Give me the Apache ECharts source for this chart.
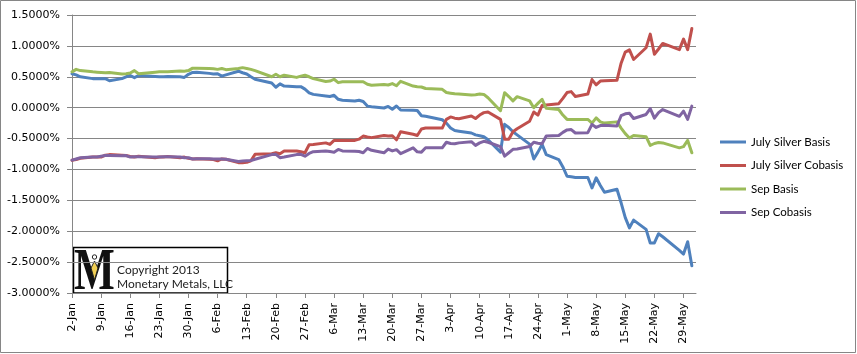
<!DOCTYPE html>
<html><head><meta charset="utf-8">
<script src="https://cdn.jsdelivr.net/npm/echarts@6/dist/echarts.min.js"></script>
<style>html,body{margin:0;padding:0;background:#fff}#c{width:857px;height:354px}</style>
</head><body><div id="c"></div>
<script>
// trading days 2013 (MM-DD)
const dates = [
 '01-02','01-03','01-04','01-07','01-08','01-09','01-10','01-11','01-14','01-15','01-16','01-17','01-18','01-22','01-23','01-24','01-25','01-28','01-29','01-30','01-31',
 '02-01','02-04','02-05','02-06','02-07','02-08','02-11','02-12','02-13','02-14','02-15','02-19','02-20','02-21','02-22','02-25','02-26','02-27','02-28',
 '03-01','03-04','03-05','03-06','03-07','03-08','03-11','03-12','03-13','03-14','03-15','03-18','03-19','03-20','03-21','03-22','03-25','03-26','03-27','03-28',
 '04-01','04-02','04-03','04-04','04-05','04-08','04-09','04-10','04-11','04-12','04-15','04-16','04-17','04-18','04-19','04-22','04-23','04-24','04-25','04-26','04-29','04-30',
 '05-01','05-02','05-03','05-06','05-07','05-08','05-09','05-10','05-13','05-14','05-15','05-16','05-17','05-20','05-21','05-22','05-23','05-24','05-28','05-29','05-30','05-31'
];
// values in percent
const julyBasis = [
 0.55,0.53,0.50,0.47,0.47,0.47,0.47,0.435,0.47,0.50,0.52,0.485,0.52,0.505,0.50,0.50,0.505,0.50,0.49,0.54,0.57,
 0.575,0.555,0.545,0.55,0.51,0.53,0.59,0.565,0.545,0.50,0.46,0.40,0.33,0.385,0.35,0.34,0.34,0.30,0.24,
 0.215,0.19,0.18,0.20,0.135,0.12,0.108,0.12,0.10,0.025,0.016,-0.005,0.02,-0.025,0.027,-0.038,-0.043,-0.045,-0.13,-0.14,
 -0.195,-0.25,-0.33,-0.37,-0.38,-0.41,-0.44,-0.455,-0.47,-0.52,-0.72,-0.27,-0.32,-0.39,-0.44,-0.59,-0.83,-0.72,-0.595,-0.76,-0.84,-0.96,
 -1.11,-1.12,-1.13,-1.13,-1.30,-1.135,-1.26,-1.37,-1.32,-1.54,-1.78,-1.945,-1.82,-1.97,-2.19,-2.19,-2.04,-2.09,-2.31,-2.37,-2.17,-2.56
];
const julyCobasis = [
 -0.85,-0.84,-0.82,-0.80,-0.80,-0.80,-0.77,-0.76,-0.77,-0.775,-0.79,-0.80,-0.785,-0.81,-0.80,-0.80,-0.79,-0.81,-0.80,-0.82,-0.83,
 -0.825,-0.835,-0.84,-0.86,-0.83,-0.835,-0.89,-0.89,-0.885,-0.86,-0.756,-0.745,-0.73,-0.745,-0.70,-0.70,-0.715,-0.73,-0.60,
 -0.595,-0.57,-0.595,-0.53,-0.53,-0.53,-0.53,-0.51,-0.46,-0.475,-0.485,-0.45,-0.46,-0.455,-0.52,-0.39,-0.43,-0.45,-0.345,-0.33,
 -0.33,-0.19,-0.15,-0.17,-0.18,-0.135,-0.175,-0.12,-0.08,-0.07,-0.19,-0.51,-0.51,-0.39,-0.34,-0.22,-0.07,-0.12,0.035,0.045,0.065,0.15,
 0.245,0.26,0.18,0.22,0.455,0.37,0.43,0.435,0.443,0.72,0.90,0.935,0.78,0.97,1.19,0.865,0.95,1.04,0.94,1.11,0.94,1.28
];
const sepBasis = [
 0.58,0.62,0.60,0.58,0.575,0.57,0.565,0.57,0.545,0.55,0.56,0.60,0.55,0.575,0.58,0.58,0.58,0.595,0.59,0.60,0.64,
 0.64,0.632,0.63,0.62,0.635,0.615,0.635,0.648,0.635,0.62,0.60,0.50,0.54,0.50,0.525,0.49,0.51,0.525,0.50,
 0.47,0.425,0.43,0.46,0.405,0.42,0.42,0.42,0.42,0.38,0.362,0.375,0.367,0.39,0.355,0.427,0.35,0.34,0.335,0.31,
 0.297,0.245,0.235,0.225,0.22,0.205,0.21,0.22,0.215,0.16,-0.05,0.243,0.18,0.11,0.178,0.11,0.0,0.07,0.135,-0.01,-0.03,-0.12,
 -0.19,-0.19,-0.19,-0.19,-0.25,-0.165,-0.23,-0.25,-0.23,-0.33,-0.42,-0.49,-0.45,-0.47,-0.61,-0.58,-0.565,-0.57,-0.65,-0.63,-0.53,-0.73
];
const sepCobasis = [
 -0.85,-0.83,-0.81,-0.80,-0.80,-0.785,-0.775,-0.775,-0.78,-0.775,-0.80,-0.795,-0.795,-0.80,-0.80,-0.795,-0.795,-0.80,-0.81,-0.81,-0.83,
 -0.825,-0.825,-0.83,-0.83,-0.83,-0.835,-0.87,-0.865,-0.86,-0.855,-0.835,-0.76,-0.755,-0.81,-0.80,-0.76,-0.755,-0.785,-0.74,
 -0.713,-0.70,-0.71,-0.72,-0.676,-0.70,-0.705,-0.71,-0.73,-0.66,-0.69,-0.73,-0.67,-0.70,-0.68,-0.745,-0.65,-0.715,-0.72,-0.65,
 -0.65,-0.56,-0.58,-0.585,-0.57,-0.55,-0.61,-0.57,-0.545,-0.56,-0.63,-0.785,-0.73,-0.675,-0.67,-0.63,-0.56,-0.575,-0.585,-0.46,-0.45,-0.40,
 -0.36,-0.355,-0.41,-0.405,-0.27,-0.32,-0.29,-0.285,-0.295,-0.13,-0.10,-0.09,-0.175,-0.11,-0.015,-0.17,-0.08,-0.03,-0.14,-0.055,-0.19,0.025
];
const seriesNames = ['July Silver Basis','July Silver Cobasis','Sep Basis','Sep Cobasis'];
const seriesColors = ['#4F81BD','#C0504D','#9BBB59','#8064A2'];
const xTickLabels = ['2-Jan','9-Jan','16-Jan','23-Jan','30-Jan','6-Feb','13-Feb','20-Feb','27-Feb','6-Mar','13-Mar','20-Mar','27-Mar','3-Apr','10-Apr','17-Apr','24-Apr','1-May','8-May','15-May','22-May','29-May'];
const yMin = -3, yMax = 1.5, yStep = 0.5;

const base = Date.UTC(2013,0,2);
const monthIdx = {Jan:0,Feb:1,Mar:2,Apr:3,May:4,Jun:5};
const dayFromMD = s => { const [m,d] = s.split('-').map(Number); return Math.round((Date.UTC(2013,m-1,d)-base)/86400000); };
const dayFromLabel = s => { const [d,m] = s.split('-'); return Math.round((Date.UTC(2013,monthIdx[m],+d)-base)/86400000); };
const xs = dates.map(dayFromMD);
const tickDays = xTickLabels.map(dayFromLabel);
const labelMap = {}; tickDays.forEach((d,i)=>labelMap[d]=xTickLabels[i]);
const allVals = [julyBasis, julyCobasis, sepBasis, sepCobasis];

const chart = echarts.init(document.getElementById('c'), null, {renderer:'canvas'});
const axisColor = '#868686';
chart.setOption({
  animation:false,
  backgroundColor:'#ffffff',
  grid:{left:72, right:161, top:15, bottom:61, containLabel:false},
  xAxis:{type:'value', min:0, max:150, interval:7,
    axisLine:{show:true, onZero:false, lineStyle:{color:axisColor, width:1}},
    axisTick:{show:true, length:5, customValues:tickDays, lineStyle:{color:axisColor}},
    axisLabel:{customValues:tickDays, rotate:90, margin:10, padding:[8,0,0,0], formatter:v=>labelMap[v]||'',
      fontFamily:'DejaVu Sans', fontSize:11, color:'#000'},
    splitLine:{show:false}},
  yAxis:{type:'value', min:yMin, max:yMax, interval:yStep,
    axisLine:{show:true, onZero:false, lineStyle:{color:axisColor, width:1}},
    axisTick:{show:true, length:5, lineStyle:{color:axisColor}},
    axisLabel:{margin:12, fontFamily:'DejaVu Sans', fontSize:11, color:'#000',
      formatter:v=>(Math.abs(v)<1e-9?0:v).toFixed(4)+'%'},
    splitLine:{show:true, lineStyle:{color:axisColor, width:1}}},
  legend:{orient:'vertical', left:715, top:130, icon:'rect', itemWidth:26, itemHeight:3, itemGap:9.5,
    data:seriesNames, textStyle:{fontFamily:'Lato', fontSize:11.5, color:'#000', lineHeight:14}},
  series: seriesNames.map((n,k)=>({
    name:n, type:'line', symbol:'none', smooth:false,
    data: xs.map((x,i)=>[x, allVals[k][i]]),
    lineStyle:{color:seriesColors[k], width:3, join:'round', cap:'round'},
    itemStyle:{color:seriesColors[k]}
  })),
  graphic:[
    {type:'rect', z:100, silent:true, shape:{x:0.5,y:0.5,width:855,height:352}, style:{fill:'none', stroke:axisColor, lineWidth:1}},
    {type:'group', z:100, silent:true, children:[
      {type:'rect', shape:{x:73.5,y:247.5,width:154,height:45.5}, style:{fill:'#fff', stroke:'#000', lineWidth:1.5}},
      {type:'text', x:94.5, y:273, scaleX:0.72, style:{text:'M', font:'bold 60px "Liberation Serif"', fill:'#111', align:'center', verticalAlign:'middle'}},
      {type:'circle', shape:{cx:94.5, cy:257, r:2.2}, style:{fill:'#fff', stroke:'#222', lineWidth:1}},
      {type:'polygon', shape:{points:[[94.5,261],[98,268],[94.5,280],[91,268]]}, style:{fill:'#F0CE55', stroke:'#222', lineWidth:1}},
      {type:'text', x:117, y:270.5, style:{text:'Copyright 2013', font:'12px Lato', fill:'#222', verticalAlign:'middle'}},
      {type:'text', x:117, y:284, style:{text:'Monetary Metals, LLC', font:'12px Lato', fill:'#222', verticalAlign:'middle'}}
    ]}
  ]
});
</script></body></html>
